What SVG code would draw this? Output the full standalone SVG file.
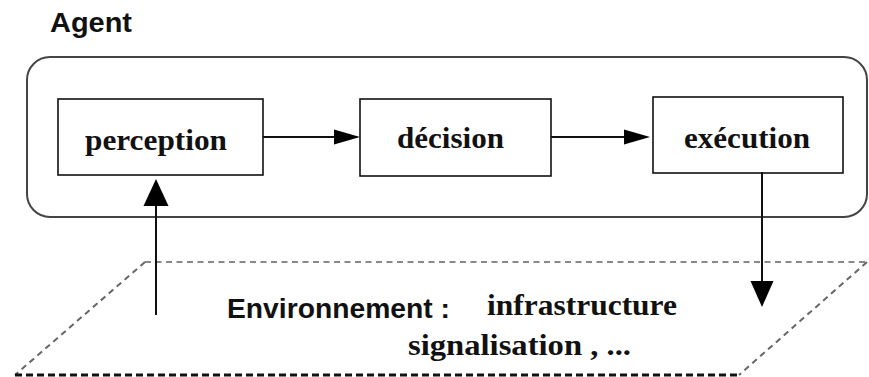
<svg xmlns="http://www.w3.org/2000/svg" width="869" height="377" viewBox="0 0 869 377">
<style>
.box{fill:#fff;stroke:#111;stroke-width:1.6}
.lbl{font-family:"Liberation Serif","Times New Roman",serif;font-weight:bold;font-size:30px;fill:#111}
.sans{font-family:"Liberation Sans",Arial,sans-serif;font-weight:bold;fill:#111}
.conn{stroke:#111;stroke-width:2;fill:none}
.head{fill:#000}
</style>
<rect width="869" height="377" fill="#fff"/>
<text class="sans" x="50" y="32" font-size="27" textLength="82" lengthAdjust="spacingAndGlyphs">Agent</text>
<g id="agent">
<rect x="27" y="57" width="840" height="160" rx="23" ry="23" fill="none" stroke="#444" stroke-width="2"/>
</g>
<g id="environment">
<path d="M145,262 H867" stroke="#888" stroke-width="2" stroke-dasharray="6,4.5" fill="none"/>
<path d="M145,262 L15,375 M867,262 L739,375" stroke="#666" stroke-width="2" stroke-dasharray="6,4.5" fill="none"/>
<path d="M15,375 H739" stroke="#111" stroke-width="3" stroke-dasharray="7,4" fill="none"/>
<text class="sans" x="227" y="318" font-size="27" textLength="223" lengthAdjust="spacingAndGlyphs">Environnement :</text>
<text class="lbl" x="487" y="315" font-size="28" textLength="190" lengthAdjust="spacingAndGlyphs">infrastructure</text>
<text class="lbl" x="408" y="355" font-size="28" textLength="223" lengthAdjust="spacingAndGlyphs">signalisation , ...</text>
</g>
<g id="perception">
<rect class="box" x="58" y="99" width="205" height="76"/>
<text class="lbl" x="85" y="150" textLength="142" lengthAdjust="spacingAndGlyphs">perception</text>
</g>
<g id="decision">
<rect class="box" x="360" y="99" width="191" height="77"/>
<text class="lbl" x="397" y="148" textLength="107" lengthAdjust="spacingAndGlyphs">décision</text>
</g>
<g id="execution">
<rect class="box" x="653" y="97" width="190" height="76"/>
<text class="lbl" x="684" y="148" textLength="126" lengthAdjust="spacingAndGlyphs">exécution</text>
</g>
<g id="connectors">
<path class="conn" d="M263,137 H334"/>
<polygon class="head" points="334,129.5 360,137 334,144.5"/>
<path class="conn" d="M551,137 H624"/>
<polygon class="head" points="624,129.5 650,137 624,144.5"/>
<path class="conn" d="M156,315 V205"/>
<polygon class="head" points="143.5,206 156,179 168.5,206"/>
<path class="conn" d="M762,172 V282"/>
<polygon class="head" points="750.5,281 762,307 773.5,281"/>
</g>
</svg>
